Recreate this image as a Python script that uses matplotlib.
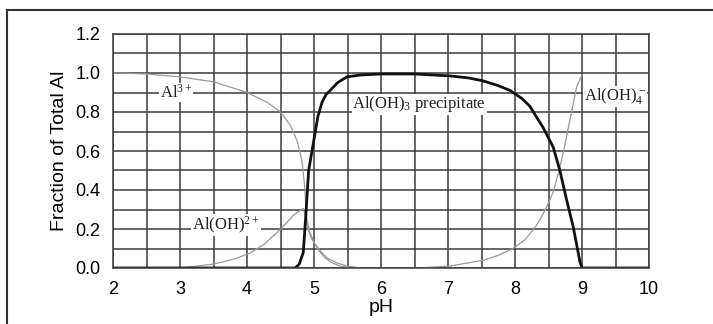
import numpy as np
import matplotlib
matplotlib.use('Agg')
from matplotlib import pyplot as plt
from matplotlib.lines import Line2D
from matplotlib.ticker import MultipleLocator

# Al3+
ph_al3 = [2.0, 2.5, 3.0, 3.5, 4.0, 4.3, 4.5, 4.65, 4.75, 4.82, 4.86, 4.89, 4.93, 4.99, 5.07, 5.14, 5.25, 5.39, 5.55]
fr_al3 = [1.0, 0.995, 0.98, 0.955, 0.90, 0.85, 0.80, 0.73, 0.65, 0.55, 0.42, 0.26, 0.19, 0.14, 0.09, 0.06, 0.03, 0.01, 0.0]

# Al(OH)2+
ph_aloh = [2.0, 3.0, 3.5, 3.8, 4.04, 4.25, 4.49, 4.6, 4.69, 4.77, 4.84, 4.87, 4.9, 4.95, 5.0, 5.09, 5.2, 5.35, 5.49, 5.7]
fr_aloh = [0.0, 0.0, 0.02, 0.045, 0.075, 0.12, 0.195, 0.235, 0.27, 0.29, 0.305, 0.27, 0.21, 0.16, 0.13, 0.09, 0.05, 0.025, 0.01, 0.0]

# Al(OH)3 precipitate
ph_ppt = [2.0, 4.72, 4.78, 4.84, 4.88, 4.92, 4.97, 5.01, 5.06, 5.12, 5.18, 5.24, 5.35, 5.49, 5.7, 6.0, 6.5, 7.03, 7.3, 7.52, 7.75, 7.93, 8.1, 8.22, 8.42, 8.57, 8.67, 8.77, 8.87, 8.97, 9.0, 10.0]
fr_ppt = [0.0, 0.0, 0.02, 0.08, 0.28, 0.50, 0.60, 0.68, 0.78, 0.85, 0.89, 0.91, 0.95, 0.98, 0.99, 0.995, 0.995, 0.985, 0.975, 0.96, 0.935, 0.91, 0.87, 0.83, 0.72, 0.62, 0.50, 0.35, 0.21, 0.03, 0.0, 0.0]

# Al(OH)4-
ph_al4 = [6.0, 6.53, 7.03, 7.53, 7.75, 7.97, 8.15, 8.27, 8.37, 8.47, 8.57, 8.65, 8.72, 8.82, 8.92, 9.0]
fr_al4 = [0.0, 0.0, 0.01, 0.04, 0.065, 0.10, 0.145, 0.195, 0.245, 0.31, 0.39, 0.49, 0.59, 0.76, 0.93, 0.99]

plt.rcParams['font.family'] = 'Liberation Sans'
plt.rcParams['mathtext.default'] = 'regular'

fig = plt.figure(figsize=(7.13, 3.24), dpi=100)
ax = fig.add_axes([113/713, 1 - 268/324, (649 - 113)/713, (268 - 34)/324])

gc = '#3c3c3c'
ax.set_xlim(2, 10)
ax.set_ylim(0, 1.2)
ax.xaxis.set_major_locator(MultipleLocator(1))
ax.xaxis.set_minor_locator(MultipleLocator(0.5))
ax.yaxis.set_major_locator(MultipleLocator(0.2))
ax.yaxis.set_minor_locator(MultipleLocator(0.1))
ax.yaxis.set_major_formatter(matplotlib.ticker.FormatStrFormatter('%.1f'))
ax.grid(True, which='both', color=gc, lw=1.1)
ax.set_axisbelow(True)
ax.tick_params(which='both', length=0, labelsize=13, pad=9)
for s in ax.spines.values():
    s.set_color(gc)
    s.set_linewidth(1.1)

ax.plot(ph_al3, fr_al3, color='#999999', lw=0.9)
ax.plot(ph_aloh, fr_aloh, color='#999999', lw=0.9)
ax.plot(ph_al4, fr_al4, color='#999999', lw=0.9)
ax.plot(ph_ppt, fr_ppt, color='#111111', lw=2.0)

tf = dict(family='Liberation Serif', fontsize=12, color='#222222')
ax.text(2.70, 0.90, r'Al$^{3+}$', va='center', ha='left',
        bbox=dict(fc='white', ec='none', pad=0.5), **tf)
ax.text(3.18, 0.22, r'Al(OH)$^{2+}$', va='center', ha='left',
        bbox=dict(fc='white', ec='none', pad=0.5), **tf)
ax.text(5.57, 0.84, r'Al(OH)$_3$ precipitate', va='center', ha='left',
        bbox=dict(fc='white', ec='none', pad=0.5), **tf)
ax.text(9.03, 0.88, r'Al(OH)$_4^-$', va='center', ha='left',
        bbox=dict(fc='white', ec='none', pad=0.5), **tf)

ax.set_xlabel('pH', fontsize=14, labelpad=1)
ax.set_ylabel('Fraction of Total Al', fontsize=14, labelpad=5)

# frame around the figure (top and left edges)
fig.add_artist(Line2D([7/713, 1.0], [1 - 10/324, 1 - 10/324], color='#333333', lw=1.5))
fig.add_artist(Line2D([7/713, 7/713], [0.0, 1 - 10/324], color='#333333', lw=1.5))

plt.savefig('out.png', dpi=100)
